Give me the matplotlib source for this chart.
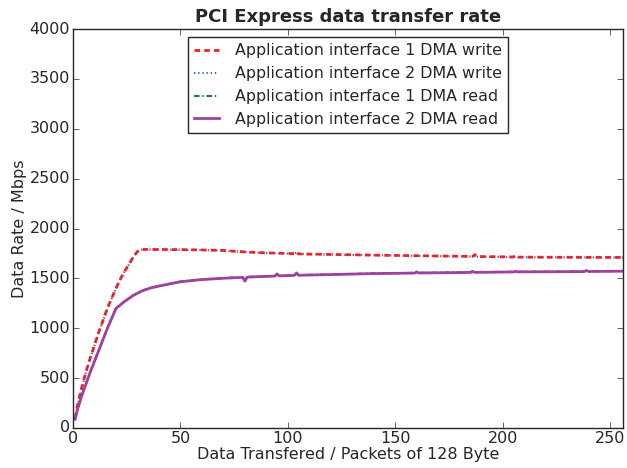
import matplotlib
matplotlib.use('Agg')
import matplotlib.pyplot as plt

plt.style.use('classic')
plt.rcParams.update({
    'text.color': '#262626',
    'axes.labelcolor': '#262626',
    'axes.edgecolor': '#262626',
    'xtick.color': '#262626',
    'ytick.color': '#262626',
})

# packets transferred (x) and data rate in Mbps
write_x = [1, 2, 4, 6, 8, 10, 12, 14, 16, 18, 20, 22, 24, 26, 28, 30, 32,
           40, 50, 60, 70, 80, 90, 100, 103, 104, 105, 120, 140, 160, 180,
           186, 187, 188, 200, 205, 206, 207, 220, 240, 256]
write1 = [100, 220, 400, 560, 700, 830, 960, 1080, 1200, 1300, 1400, 1490,
          1570, 1640, 1710, 1770, 1790, 1790, 1788, 1785, 1780, 1765, 1755,
          1750, 1748, 1765, 1745, 1740, 1733, 1727, 1722, 1720, 1738, 1719,
          1716, 1714, 1730, 1713, 1712, 1711, 1710]
write2 = [95, 215, 395, 555, 695, 825, 955, 1075, 1195, 1298, 1398, 1488,
          1568, 1638, 1708, 1768, 1788, 1789, 1787, 1784, 1779, 1764, 1754,
          1749, 1747, 1760, 1744, 1739, 1732, 1726, 1721, 1719, 1733, 1718,
          1715, 1713, 1726, 1712, 1711, 1710, 1709]

read_x = [1, 2, 4, 6, 8, 10, 12, 14, 16, 18, 20, 24, 28, 32, 36, 40, 50,
          60, 70, 79, 80, 81, 82, 90, 94, 95, 96, 100, 103, 104, 105, 120,
          140, 159, 160, 161, 180, 185, 186, 187, 200, 205, 206, 207, 220,
          238, 239, 240, 256]
read1 = [90, 180, 320, 440, 560, 670, 780, 890, 1000, 1100, 1200, 1270,
         1330, 1375, 1405, 1425, 1468, 1490, 1503, 1512, 1475, 1513, 1515,
         1522, 1525, 1548, 1527, 1530, 1532, 1558, 1533, 1540, 1550, 1555,
         1568, 1556, 1560, 1562, 1572, 1562, 1565, 1566, 1575, 1567, 1568,
         1570, 1582, 1571, 1574]
read2 = [88, 178, 318, 438, 558, 668, 778, 888, 998, 1098, 1198, 1268,
         1328, 1373, 1403, 1423, 1466, 1488, 1501, 1510, 1472, 1511, 1513,
         1520, 1523, 1540, 1525, 1528, 1530, 1552, 1531, 1538, 1548, 1553,
         1563, 1554, 1558, 1560, 1568, 1560, 1563, 1564, 1570, 1565, 1566,
         1568, 1578, 1569, 1572]

labels = ['Application interface 1 DMA write',
          'Application interface 2 DMA write',
          'Application interface 1 DMA read',
          'Application interface 2 DMA read']

fig = plt.figure(figsize=(6.27, 4.68), dpi=100, facecolor='white')
ax = fig.add_axes([0.1164, 0.0855, 0.8772, 0.8525])

ax.plot(write_x, write2, ':', color='#4466cc', lw=1.5, dashes=(1, 2),
        label=labels[1])
ax.plot(write_x, write1, '--', color='#ee2222', lw=2, dashes=(4, 3),
        label=labels[0])
ax.plot(read_x, read1, '-.', color='#227744', lw=1.5, dashes=(4, 2, 1, 2),
        label=labels[2])
ax.plot(read_x, read2, '-', color='#a040a0', lw=2, label=labels[3])

ax.set_xlim(0, 256)
ax.set_ylim(0, 4000)
ax.set_xticks([0, 50, 100, 150, 200, 250])
ax.set_yticks(range(0, 4001, 500))
ax.tick_params(labelsize=11.5, pad=2)

ax.set_title('PCI Express data transfer rate', fontsize=13, fontweight='bold')
ax.set_xlabel('Data Transfered / Packets of 128 Byte', fontsize=11.5, labelpad=1)
ax.set_ylabel('Data Rate / Mbps', fontsize=11.5, labelpad=2)

h, l = ax.get_legend_handles_labels()
order = [1, 0, 2, 3]
ax.legend([h[i] for i in order], [l[i] for i in order],
          loc='upper center', fontsize=11.4, handlelength=1.6,
          handletextpad=1.0, numpoints=1)

fig.savefig('out.png', dpi=100, facecolor='white')
